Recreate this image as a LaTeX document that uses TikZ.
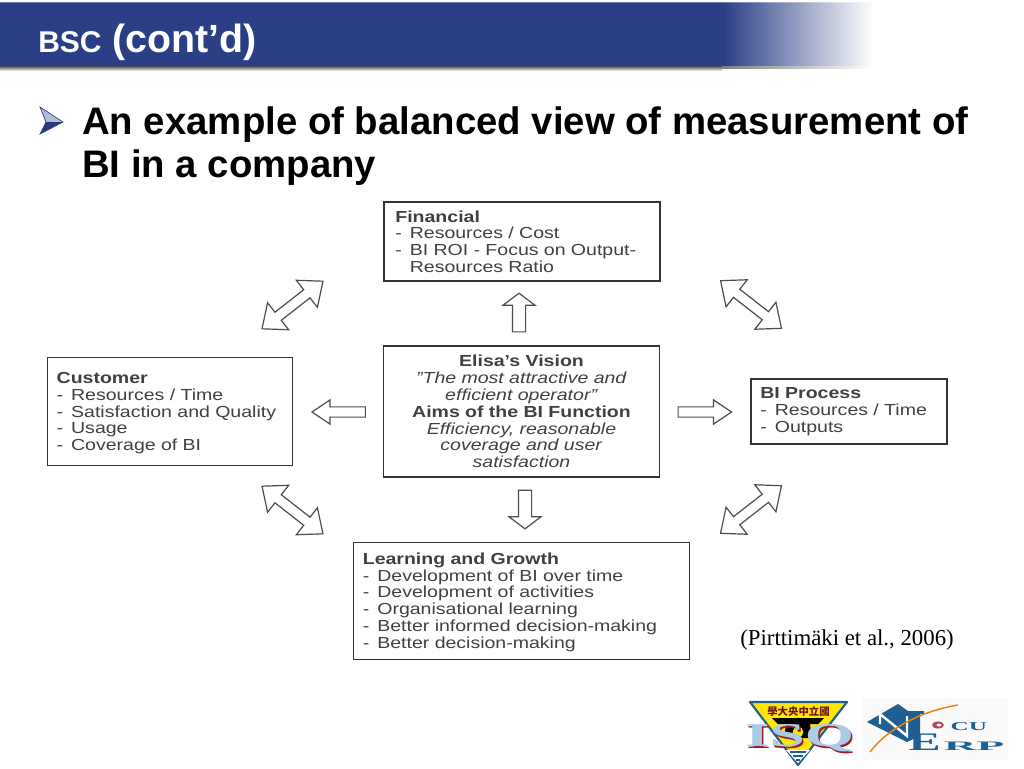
\documentclass[tikz,border=0pt]{standalone}
\usepackage{fontspec}
\setmainfont{Liberation Sans}
\newfontfamily\boxfont[FakeStretch=1.22]{Liberation Sans}
\newfontfamily\citefont{Liberation Serif}
\newfontfamily\cjkfont{Noto Sans CJK TC}
\usetikzlibrary{shapes.arrows}
\definecolor{bandblue}{HTML}{2A3F86}
\definecolor{logoblue}{HTML}{1F5F93}
\definecolor{logored}{HTML}{A01C2C}
\definecolor{logosky}{HTML}{A9CDE8}
\newcommand{\itemdash}{-\hspace{6pt}}
\tikzset{
	infobox/.style={draw=black!80,line width=1.2pt,inner xsep=7pt,inner ysep=0pt,align=left,
		font=\boxfont\fontsize{12}{12.6}\selectfont,text=black!75},
	blockarrow/.style={single arrow,draw=black!70,line width=0.9pt,fill=white,inner xsep=0pt,minimum width=0pt},
	diagarrow/.style={double arrow,draw=black!70,line width=0.9pt,fill=white,inner xsep=0pt,minimum width=0pt,
		double arrow head extend=9pt,double arrow tip angle=80,inner ysep=3.4pt,minimum height=58pt},
	logoletter/.style={inner sep=0pt,text=logoblue,anchor=base west}
}
\begin{document}
\begin{tikzpicture}[x=0.75pt,y=-0.75pt]
	\useasboundingbox (0,0) rectangle (1024,768);
	% title band
	\fill [top color=black!70,bottom color=white] (0,66) rectangle (722,71);
	\fill [bandblue!70] (0,2) rectangle (722,3.5);
	\fill [bandblue] (0,3) rectangle (722,66);
	\foreach \x in {722,725,...,869} {
		\pgfmathtruncatemacro{\fadepart}{100*(872-\x)/150}
		\pgfmathtruncatemacro{\edgepart}{70*(872-\x)/150}
		\pgfmathtruncatemacro{\shadepart}{50*(872-\x)/150}
		\fill [bandblue!\edgepart!white] (\x,2) rectangle (872,3.5);
		\fill [bandblue!\fadepart!white] (\x,3) rectangle (872,66);
		\fill [black!\shadepart!white] (\x,66) rectangle (872,69);
	}
	\node [anchor=base west,text=white,font=\bfseries\fontsize{22.5}{22.5}\selectfont,inner sep=0pt] (bandtitle) at (38,52)
		{BSC\hspace{2pt} {\fontsize{29.5}{29.5}\selectfont (cont’d)}};
	% bullet
	\fill [bandblue!35] (40,107) -- (63,122) -- (46,122) -- cycle;
	\fill [bandblue!90!black] (40,134) -- (63,122) -- (46,122) -- cycle;
	\draw [bandblue,line width=0.5pt] (40,107) -- (63,122) -- (40,134) -- (46,122) -- cycle;
	\node [anchor=north west,inner sep=0pt,align=left,font=\bfseries\fontsize{28.75}{32}\selectfont] (headline) at (82,106.5)
		{An example of balanced view of measurement of\\BI in a company};
	% boxes
	\node [infobox,minimum width=207pt,minimum height=59pt,text width=190pt] (financial) at (522,241.5)
		{\textbf{Financial}\\\itemdash Resources / Cost\\\itemdash BI ROI - Focus on Output-\\\phantom{\itemdash}Resources Ratio};
	\node [infobox,minimum width=207pt,minimum height=98pt,text width=193pt,align=center] (vision) at (521.5,411.5)
		{\textbf{Elisa’s Vision}\\\textit{”The most attractive and}\\\textit{efficient operator”}\\\textbf{Aims of the BI Function}\\\textit{Efficiency, reasonable}\\\textit{coverage and user}\\\textit{satisfaction}};
	\node [infobox,minimum width=184pt,minimum height=81pt,text width=170pt] (customer) at (170,411.5)
		{\rule{0pt}{11pt}\textbf{Customer}\\\itemdash Resources / Time\\\itemdash Satisfaction and Quality\\\itemdash Usage\\\itemdash Coverage of BI};
	\node [infobox,minimum width=147pt,minimum height=49pt,text width=133pt] (process) at (849,411.5)
		{\textbf{BI Process}\\\itemdash Resources / Time\\\itemdash Outputs};
	\node [infobox,minimum width=252pt,minimum height=88pt,text width=238pt] (learning) at (521.5,601)
		{\rule{0pt}{10.5pt}\textbf{Learning and Growth}\\\itemdash Development of BI over time\\\itemdash Development of activities\\\itemdash Organisational learning\\\itemdash Better informed decision-making\\\itemdash Better decision-making};
	% arrows from the centre
	\node [blockarrow,rotate=90,minimum height=29pt,inner ysep=4.5pt,single arrow head extend=7pt,single arrow tip angle=106] (toFinancial) at (519,315) {};
	\node [blockarrow,rotate=-90,minimum height=29pt,inner ysep=4.5pt,single arrow head extend=7pt,single arrow tip angle=106] (toLearning) at (525,507) {};
	\node [blockarrow,rotate=180,minimum height=40pt,inner ysep=3.4pt,single arrow head extend=5.2pt,single arrow tip angle=68] (toCustomer) at (342.5,412) {};
	\node [blockarrow,minimum height=40pt,inner ysep=3.4pt,single arrow head extend=5.2pt,single arrow tip angle=68] (toProcess) at (701,412) {};
	% arrows round the outside
	\node [diagarrow,rotate=38] (custFin) at (292.5,305) {};
	\node [diagarrow,rotate=-38] (finProc) at (751,304.5) {};
	\node [diagarrow,rotate=-38] (custLearn) at (292.5,510) {};
	\node [diagarrow,rotate=38] (learnProc) at (751,509.5) {};
	\node [anchor=base east,inner sep=0pt,font=\citefont\fontsize{17.1}{17.1}\selectfont] (citation) at (954,645) {(Pirttimäki et al., 2006)};
	% ISQ logo
	\draw [fill=yellow!90!orange,draw=logoblue,line width=1.6pt,line join=round] (750,702) -- (847,702) -- (798,765) -- cycle;
	\fill [white] (786,750) -- (810,750) -- (798,763) -- cycle;
	\draw [logoblue,line width=0.8pt] (790,752) -- (806,752) (793,756) -- (803,756) (796,760) -- (800,760);
	\fill [black] (772,718) -- (824,718) -- (818,724) -- (810,724) -- (812,738) -- (784,738) -- (786,724) -- (778,724) -- cycle;
	\fill [yellow!90!orange] (798,732) circle (4pt);
	\node [inner sep=0pt,text=logored!70!black,font=\cjkfont\bfseries\fontsize{7.8}{8}\selectfont] (isqchars) at (798.5,711.5) {學大央中立國};
	\node [inner sep=0pt,xscale=1.9,text=logored,font=\citefont\bfseries\fontsize{25}{25}\selectfont] (isqshade) at (801,740) {ISQ};
	\node [inner sep=0pt,xscale=1.9,text=logosky,font=\citefont\bfseries\fontsize{25}{25}\selectfont] (isqname) at (799.5,738) {ISQ};
	% NCU ERP logo
	\fill [black!2] (862,698) rectangle (1008,760);
	\fill [logoblue] (867,722) -- (898,704) -- (908,711) -- (924,711) -- (924,714) -- (920,714) -- (920,736) -- (907,742) -- cycle;
	\draw [white,line width=1.8pt] (880,724) -- (880,714) -- (907,736) -- (907,716);
	\draw [orange!80!brown,line width=1.1pt] (870,752) .. controls (888,728) and (922,711) .. (958,705);
	\fill [logored!80!white] (938,725) ellipse (6 and 3.5);
	\fill [white] (939,725) ellipse (2.5 and 1.5);
	\node [logoletter,xscale=2.1,font=\citefont\bfseries\fontsize{9}{9}\selectfont] (ncuCU) at (950,730) {CU};
	\node [logoletter,xscale=1.9,font=\citefont\bfseries\fontsize{19}{19}\selectfont] (ncuE) at (908,750) {E};
	\node [logoletter,xscale=3.5,font=\citefont\bfseries\fontsize{9.7}{9.7}\selectfont] (ncuRP) at (943,750) {RP};
\end{tikzpicture}
\end{document}
